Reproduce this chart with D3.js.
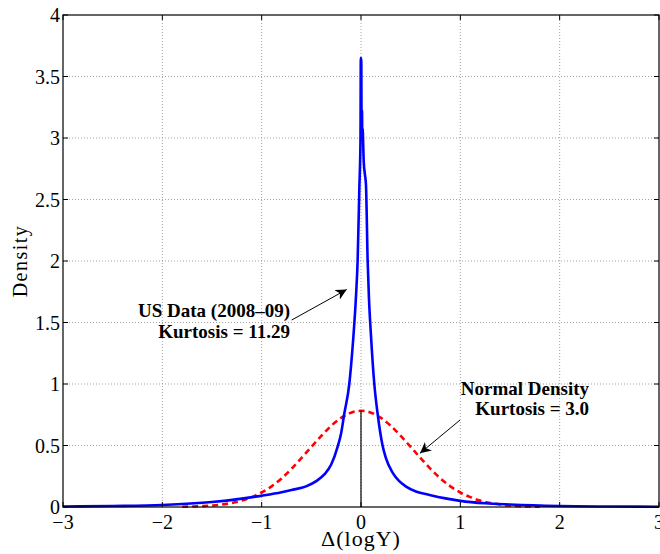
<!DOCTYPE html>
<html>
<head>
<meta charset="utf-8">
<script src="https://cdn.jsdelivr.net/npm/d3@7"></script>
<style>
  html, body { margin: 0; padding: 0; background: #fff; }
  svg { display: block; }
  text { font-family: "Liberation Serif", "Times New Roman", serif; fill: #000; }
  .tick-label { font-size: 20px; }
  .note { font-size: 19px; font-weight: bold; }
</style>
</head>
<body>
<svg id="chart" width="660" height="554"></svg>
<script>
const xTicks = [-3, -2, -1, 0, 1, 2, 3];
const yTicks = [0, 0.5, 1, 1.5, 2, 2.5, 3, 3.5, 4];

// empirical density, US data 2008-09
const usX = [-3, -2.5, -2, -1.5, -1.2, -1.0, -0.8, -0.7, -0.553, -0.45, -0.369, -0.3, -0.235, -0.2, -0.168,
  -0.118, -0.1, -0.077, -0.05, -0.034, -0.017, -0.005, -0.002, 0.0, 0.003, 0.006, 0.01, 0.013, 0.018,
  0.022, 0.028, 0.04, 0.05, 0.067, 0.08, 0.1, 0.134, 0.167, 0.217, 0.25, 0.318, 0.385, 0.45, 0.553,
  0.69, 0.85, 1.0, 1.25, 1.5, 2.0, 2.5, 3.0];
const usY = [0.004, 0.008, 0.016, 0.04, 0.068, 0.092, 0.12, 0.138, 0.168, 0.21, 0.265, 0.345, 0.49, 0.6, 0.76,
  1.0, 1.15, 1.38, 1.72, 2.0, 2.58, 3.0, 3.65, 3.65, 3.62, 3.0, 3.23, 3.0, 3.08,
  2.95, 2.8, 2.7, 2.62, 2.0, 1.7, 1.4, 1.0, 0.76, 0.5, 0.4, 0.28, 0.21, 0.168, 0.126,
  0.098, 0.07, 0.05, 0.03, 0.02, 0.008, 0.004, 0.002];

// fitted normal density
const normX = [-1.8, -1.7, -1.6, -1.5, -1.4, -1.3, -1.2, -1.1, -1.0, -0.9, -0.8, -0.7, -0.6, -0.5, -0.4,
  -0.3, -0.2, -0.1, 0, 0.1, 0.2, 0.3, 0.4, 0.5, 0.6, 0.7, 0.8, 0.9, 1.0, 1.1, 1.2, 1.3, 1.4, 1.5, 1.6, 1.7, 1.8];
const normY = [0.002, 0.004, 0.007, 0.012, 0.02, 0.033, 0.052, 0.08, 0.118, 0.168, 0.232, 0.31, 0.398, 0.488,
  0.578, 0.66, 0.725, 0.767, 0.782, 0.767, 0.725, 0.66, 0.578, 0.488, 0.398, 0.31, 0.232, 0.168, 0.118,
  0.08, 0.052, 0.033, 0.02, 0.012, 0.007, 0.004, 0.002];

const stemX = [0, 0];
const stemY = [0, 0.782];

const notes = [
  { lines: ["US Data (2008\u201309)", "Kurtosis = 11.29"], x: -0.715, y: [1.545, 1.374],
    from: [-0.698, 1.52], to: [-0.144, 1.768] },
  { lines: ["Normal Density", "Kurtosis = 3.0"], x: 2.296, y: [0.911, 0.748],
    from: [0.997, 0.707], to: [0.594, 0.437] }
];

const svg = d3.select("#chart");
const margin = { top: 15, right: 1, bottom: 47, left: 63 };
const W = 660, H = 554;

const x = d3.scaleLinear().domain([-3, 3]).range([margin.left, W - margin.right]);
const y = d3.scaleLinear().domain([0, 4]).range([H - margin.bottom, margin.top]);

// grid
svg.append("g").selectAll("line").data(xTicks.slice(1, -1)).join("line")
  .attr("x1", d => x(d)).attr("x2", d => x(d))
  .attr("y1", y(0)).attr("y2", y(4))
  .attr("stroke", "#8a8a8a").attr("stroke-width", 0.8).attr("stroke-dasharray", "1,2");
svg.append("g").selectAll("line").data(yTicks.slice(1, -1)).join("line")
  .attr("x1", x(-3)).attr("x2", x(3))
  .attr("y1", d => y(d)).attr("y2", d => y(d))
  .attr("stroke", "#8a8a8a").attr("stroke-width", 0.8).attr("stroke-dasharray", "1,2");

const line = d3.line().x(d => x(d[0])).y(d => y(d[1]));
const smooth = d3.line().curve(d3.curveMonotoneX).x(d => x(d[0])).y(d => y(d[1]));

// normal (red dashed)
svg.append("path")
  .attr("d", smooth(d3.zip(normX, normY)))
  .attr("fill", "none").attr("stroke", "#ff0000").attr("stroke-width", 2.6)
  .attr("stroke-dasharray", "6,4");

// stem at zero
svg.append("path")
  .attr("d", line(d3.zip(stemX, stemY)))
  .attr("stroke", "#000").attr("stroke-width", 1.2);

// US data (blue)
svg.append("path")
  .attr("d", smooth(d3.zip(usX, usY)))
  .attr("fill", "none").attr("stroke", "#0000ff").attr("stroke-width", 2.6)
  .attr("stroke-linejoin", "round");

// axes box with inward ticks on all sides
const tickLen = 5;
svg.append("rect")
  .attr("x", x(-3)).attr("y", y(4))
  .attr("width", x(3) - x(-3)).attr("height", y(0) - y(4))
  .attr("fill", "none").attr("stroke", "#000").attr("stroke-width", 1.2);

const ticks = svg.append("g").attr("stroke", "#000").attr("stroke-width", 1);
xTicks.forEach(t => {
  ticks.append("line").attr("x1", x(t)).attr("x2", x(t)).attr("y1", y(0)).attr("y2", y(0) - tickLen);
  ticks.append("line").attr("x1", x(t)).attr("x2", x(t)).attr("y1", y(4)).attr("y2", y(4) + tickLen);
});
yTicks.forEach(t => {
  ticks.append("line").attr("x1", x(-3)).attr("x2", x(-3) + tickLen).attr("y1", y(t)).attr("y2", y(t));
  ticks.append("line").attr("x1", x(3)).attr("x2", x(3) - tickLen).attr("y1", y(t)).attr("y2", y(t));
});

// tick labels
svg.append("g").selectAll("text").data(xTicks).join("text")
  .attr("class", "tick-label")
  .attr("x", d => x(d)).attr("y", y(0) + 22)
  .attr("text-anchor", "middle")
  .text(d => d < 0 ? "\u2212" + Math.abs(d) : d);

svg.append("g").selectAll("text").data(yTicks).join("text")
  .attr("class", "tick-label")
  .attr("x", x(-3) - 3).attr("y", d => y(d)).attr("dy", "0.36em")
  .attr("text-anchor", "end")
  .text(d => d);

// axis titles
svg.append("text")
  .attr("x", (x(-3) + x(3)) / 2).attr("y", 546)
  .attr("text-anchor", "middle")
  .attr("font-size", 22).attr("letter-spacing", 1)
  .text("\u0394(logY)");

svg.append("text")
  .attr("transform", `translate(27,${(y(0) + y(4)) / 2}) rotate(-90)`)
  .attr("text-anchor", "middle")
  .attr("font-size", 20).attr("letter-spacing", 1.5)
  .text("Density");

// annotations
svg.append("defs").append("marker")
  .attr("id", "arrow")
  .attr("viewBox", "0 0 10 10")
  .attr("refX", 10).attr("refY", 5)
  .attr("markerUnits", "userSpaceOnUse")
  .attr("markerWidth", 11).attr("markerHeight", 11)
  .attr("orient", "auto")
  .append("path")
  .attr("d", "M0,0 L10,5 L0,10 L3,5 Z")
  .attr("fill", "#000");

notes.forEach(n => {
  n.lines.forEach((t, i) => {
    svg.append("text")
      .attr("class", "note")
      .attr("x", x(n.x)).attr("y", y(n.y[i]))
      .attr("text-anchor", "end")
      .text(t);
  });
  svg.append("line")
    .attr("x1", x(n.from[0])).attr("y1", y(n.from[1]))
    .attr("x2", x(n.to[0])).attr("y2", y(n.to[1]))
    .attr("stroke", "#000").attr("stroke-width", 1)
    .attr("marker-end", "url(#arrow)");
});
</script>
</body>
</html>
